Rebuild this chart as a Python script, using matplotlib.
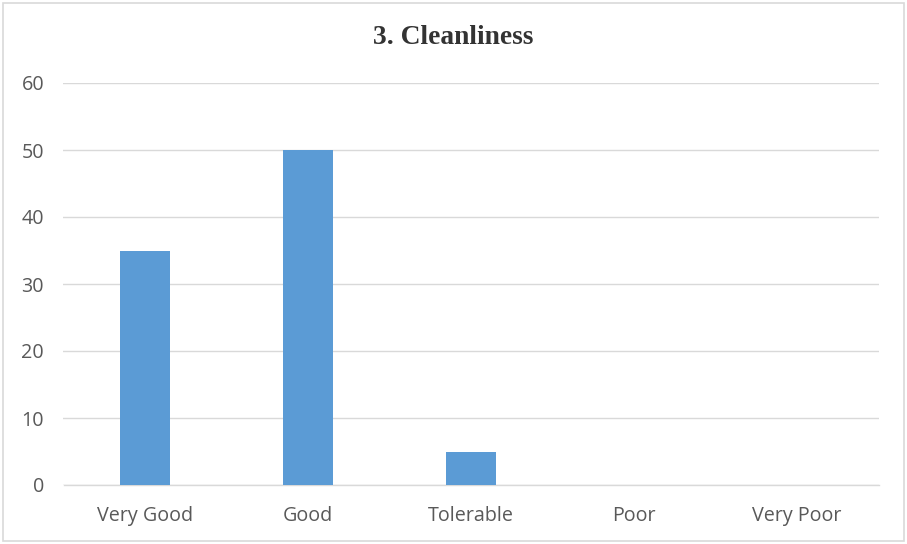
import matplotlib.pyplot as plt
from matplotlib.patches import Rectangle

categories = ['Very Good', 'Good', 'Tolerable', 'Poor', 'Very Poor']
values = [35, 50, 5, 0, 0]
yticks = [0, 10, 20, 30, 40, 50, 60]

W, H = 907, 544
fig = plt.figure(figsize=(W / 100, H / 100), dpi=100)
fig.patch.set_facecolor('white')

# chart border
fig.patches.append(Rectangle((3 / W, 3 / H), (W - 6) / W, (H - 6) / H,
                             transform=fig.transFigure, fill=False,
                             edgecolor='#d9d9d9', linewidth=1.2))

left, right = 63.5 / W, 878.5 / W
bottom, top = 1 - 485 / H, 1 - 83 / H
ax = fig.add_axes([left, bottom, right - left, top - bottom])

x = range(len(categories))
ax.bar(x, values, width=0.31, color='#5b9bd5', zorder=3)

ax.set_xlim(-0.5, len(categories) - 0.5)
ax.set_ylim(0, 60)
ax.set_yticks(yticks)
ax.set_xticks(list(x))
ax.set_xticklabels(categories)
ax.grid(axis='y', color='#d9d9d9', linewidth=1.0, zorder=0)
for s in ['top', 'right', 'left']:
    ax.spines[s].set_visible(False)
ax.spines['bottom'].set_color('#d9d9d9')
ax.spines['bottom'].set_linewidth(1.0)
ax.tick_params(length=0, colors='#595959', labelsize=14.2)
ax.tick_params(axis='y', pad=14)
ax.tick_params(axis='x', pad=15)
for lab in ax.get_xticklabels() + ax.get_yticklabels():
    lab.set_fontfamily('Open Sans')

fig.text(0.5, 1 - 38 / H, '3. Cleanliness', ha='center', va='center',
         fontsize=19.8, fontweight='bold', family='Liberation Serif',
         color='#333333')

fig.savefig('out.png', dpi=100)
